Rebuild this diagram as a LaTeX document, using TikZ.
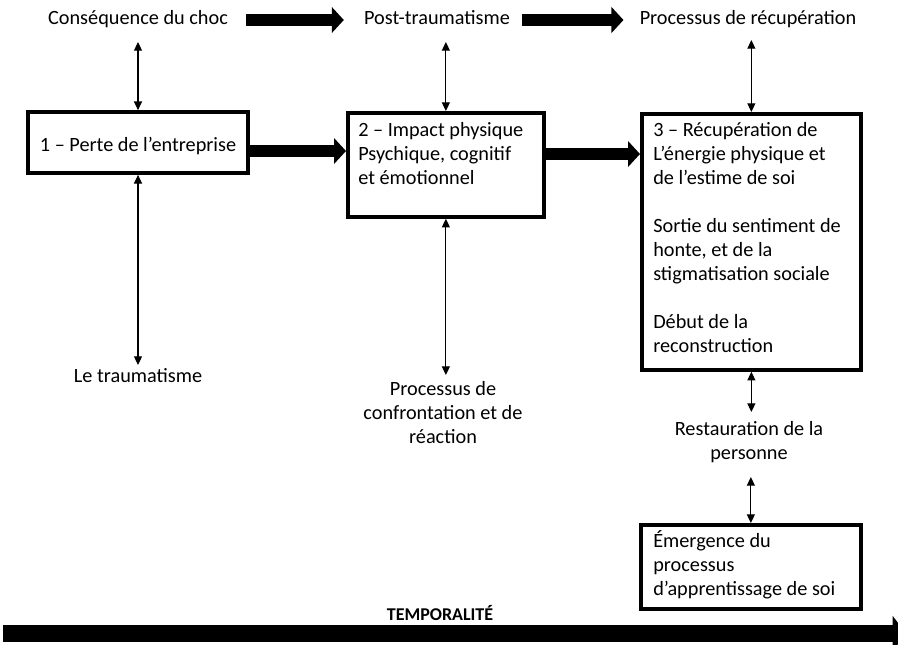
\documentclass[tikz,border=0pt]{standalone}
\usepackage{fontspec}
\setmainfont{Carlito}
\usetikzlibrary{arrows.meta}
\tikzset{
	box/.style={draw, line width=2.8pt, inner sep=0pt},
	txt/.style={font=\fontsize{15.2}{18}\selectfont, align=center, inner sep=0pt},
	boxtxt/.style={txt, align=left, anchor=base west},
	bigarrow/.style={line width=9pt, -{Triangle[length=9pt,width=19pt]}},
	dblarrow/.style={line width=0.8pt, {Triangle[length=6.5pt,width=6pt]}-{Triangle[length=6.5pt,width=6pt]}},
}

\begin{document}
\begin{tikzpicture}[x=0.75pt,y=-0.75pt]
		%%%%% START %%%%%
		\useasboundingbox (0,0) rectangle (898,644);
		
		\node[txt, anchor=base] (choc) at (138,24) {Conséquence du choc};
		\node[txt, anchor=base] (post) at (437,24) {Post-traumatisme};
		\node[txt, anchor=base] (recup) at (748,24) {Processus de récupération};
		
		\node[box, minimum width=165pt, minimum height=45.75pt] (perte) at (138,142.5) {};
		\node[box, minimum width=147pt, minimum height=78pt, anchor=north west] (impact) at (346,111) {};
		\node[box, minimum width=164.25pt, minimum height=192pt, anchor=north west] (energie) at (640,112) {};
		\node[box, minimum width=165pt, minimum height=63pt, anchor=north west] (emerg) at (639,523) {};
		
		% base = last line
		\node[txt, anchor=base] (tperte) at (138,151) {1 -- Perte de l’entreprise};
		\node[boxtxt] (timpact) at (358,184) {2 -- Impact physique\\Psychique, cognitif\\et émotionnel};
		\node[boxtxt] (tenergie) at (653,352) {3 -- Récupération de\\L’énergie physique et\\de l’estime de soi\\[18pt]Sortie du sentiment de\\honte, et de la\\stigmatisation sociale\\[18pt]Début de la\\reconstruction};
		\node[boxtxt] (temerg) at (653,595) {Émergence du\\processus\\d’apprentissage de soi};
		
		\node[txt, anchor=base] (trauma) at (138,382) {Le traumatisme};
		\node[txt, anchor=base] (confront) at (443,443) {Processus de\\confrontation et de\\réaction};
		\node[txt, anchor=base] (restau) at (749,459) {Restauration de la\\personne};
		
		\draw[bigarrow, shorten <=13.5pt, shorten >=15pt] (choc.east |- 0,20) -- (post.west |- 0,20);
		\draw[bigarrow, shorten <=9pt, shorten >=12pt] (post.east |- 0,20) -- (recup.west |- 0,20);
		\draw[bigarrow] (perte.east |- 0,151) -- (impact.west |- 0,151);
		\draw[bigarrow] (impact.east |- 0,154) -- (energie.west |- 0,154);
		
		\draw[dblarrow] (perte.north) -- (perte.north |- 0,42);
		\draw[dblarrow] (impact.north) -- (impact.north |- 0,42);
		\draw[dblarrow] (energie.north) -- (energie.north |- 0,40);
		\draw[dblarrow] (perte.south) -- (perte.south |- 0,365);
		\draw[dblarrow] (impact.south) -- (impact.south |- 0,375);
		\draw[dblarrow] (energie.south) -- (energie.south |- 0,412);
		\draw[dblarrow] (emerg.north) -- (emerg.north |- 0,477);
		
		\node[font=\fontsize{13.5}{16}\selectfont\bfseries, anchor=base, inner sep=0pt] (tempo) at (440,620) {TEMPORALITÉ};
		\coordinate (tdebut) at (3,633.5);
		\coordinate (tfin) at (906,633.5);
		\draw[line width=12.75pt, -{Triangle[length=10pt,width=26pt]}] (tdebut) -- (tfin);
		
		%%%%% END %%%%%
\end{tikzpicture}
\end{document}
